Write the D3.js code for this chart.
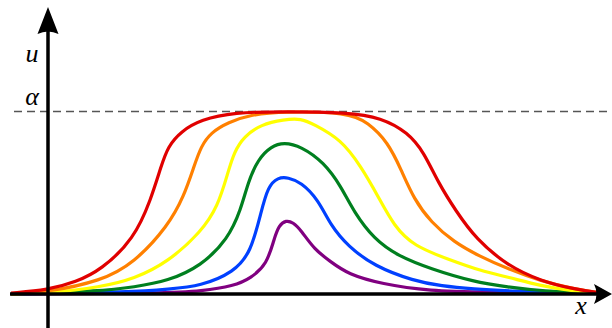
<!DOCTYPE html>
<html>
<head>
<meta charset="utf-8">
<script src="https://cdn.jsdelivr.net/npm/d3@7"></script>
<style>
  html, body { margin: 0; padding: 0; background: #fff; }
  svg { display: block; }
  .label { font-family: 'Liberation Serif', 'DejaVu Serif', serif; font-style: italic; font-size: 26px; fill: #000; }
</style>
</head>
<body>
<div id="chart"></div>
<script>
// x coordinate samples (the u axis sits at x = 0)
var xRed = [-37, 0, 28, 53, 86, 103, 113, 120, 133, 153, 186, 236, 300, 333, 360, 376, 390, 408, 428, 460, 493, 526, 553];
var uRed = [0.005, 0.022, 0.066, 0.131, 0.301, 0.519, 0.699, 0.809, 0.891, 0.956, 0.995, 1.0, 0.995, 0.967, 0.885, 0.776, 0.612, 0.454, 0.301, 0.153, 0.071, 0.027, 0.005];

var xOrange = [-37, 0, 53, 86, 120, 136, 146, 153, 163, 180, 203, 236, 300, 320, 340, 353, 366, 383, 406, 431, 460, 493, 526, 553];
var uOrange = [0, 0.011, 0.071, 0.169, 0.372, 0.536, 0.699, 0.809, 0.885, 0.940, 0.984, 1.0, 0.995, 0.940, 0.831, 0.683, 0.519, 0.393, 0.284, 0.208, 0.137, 0.071, 0.027, 0.005];

var xYellow = [-37, 0, 53, 86, 120, 153, 170, 180, 186, 196, 213, 236, 253, 266, 293, 313, 330, 346, 366, 400, 433, 460, 493, 526, 553];
var uYellow = [0, 0.005, 0.038, 0.082, 0.175, 0.339, 0.481, 0.667, 0.776, 0.863, 0.929, 0.956, 0.962, 0.929, 0.847, 0.699, 0.536, 0.372, 0.262, 0.191, 0.126, 0.093, 0.044, 0.016, 0.005];

var xGreen = [-37, 53, 86, 120, 153, 180, 193, 200, 210, 223, 236, 253, 276, 293, 306, 326, 350, 383, 426, 460, 493, 553];
var uGreen = [0, 0.016, 0.038, 0.071, 0.153, 0.301, 0.464, 0.612, 0.738, 0.809, 0.831, 0.809, 0.721, 0.590, 0.448, 0.301, 0.208, 0.137, 0.066, 0.038, 0.016, 0.005];

var xBlue = [-37, 86, 120, 153, 186, 203, 213, 220, 230, 240, 253, 270, 283, 300, 326, 366, 393, 426, 460, 553];
var uBlue = [0, 0.011, 0.027, 0.044, 0.120, 0.230, 0.448, 0.590, 0.639, 0.639, 0.612, 0.519, 0.372, 0.262, 0.153, 0.071, 0.044, 0.027, 0.016, 0.005];

var xPurple = [-37, 120, 153, 186, 203, 219, 226, 231, 238, 245, 253, 266, 283, 300, 333, 383, 433, 553];
var uPurple = [0, 0.005, 0.016, 0.044, 0.087, 0.164, 0.301, 0.377, 0.404, 0.393, 0.350, 0.246, 0.175, 0.109, 0.055, 0.016, 0.011, 0.005];

// 描画順（下から）
var seriesNames = ['purple', 'blue', 'green', 'yellow', 'orange', 'red'];
var seriesX = [xPurple, xBlue, xGreen, xYellow, xOrange, xRed];
var seriesU = [uPurple, uBlue, uGreen, uYellow, uOrange, uRed];
var seriesColors = ['#800080', '#0040ff', '#007f1f', '#ffff00', '#ff8000', '#e00000'];

// 閾値
var alphaLevel = 1.0;

(function() {
  var width = 612;
  var height = 328;

  // x: -37 .. 565  -> 11 .. 613
  var x = d3.scaleLinear().domain([-37, 565]).range([11, 613]);
  var y = d3.scaleLinear().domain([0, 1]).range([294, 111.5]);

  var svg = d3.select('#chart').append('svg')
    .attr('width', width).attr('height', height)
    .attr('viewBox', '0 0 ' + width + ' ' + height);

  // alpha の破線
  svg.append('line')
    .attr('x1', 14).attr('x2', width)
    .attr('y1', y(alphaLevel)).attr('y2', y(alphaLevel))
    .attr('stroke', '#555').attr('stroke-width', 1.5)
    .attr('stroke-dasharray', '8,5');

  // 読み取り誤差を均すため B-spline で滑らかにする
  var line = d3.line()
    .x(function(d) { return x(d[0]); })
    .y(function(d) { return y(d[1]); })
    .curve(d3.curveBasis);

  seriesNames.forEach(function(name, i) {
    var pts = seriesX[i].map(function(v, j) { return [v, seriesU[i][j]]; });
    svg.append('path')
      .datum(pts)
      .attr('class', 'curve ' + name)
      .attr('d', line)
      .attr('fill', 'none')
      .attr('stroke', seriesColors[i])
      .attr('stroke-width', 3.2)
      .attr('stroke-linejoin', 'round');
  });

  // 軸
  var x0 = x(0);
  var y0 = y(0);

  svg.append('line')
    .attr('x1', 10).attr('x2', 600)
    .attr('y1', y0).attr('y2', y0)
    .attr('stroke', '#000').attr('stroke-width', 3.5);

  svg.append('line')
    .attr('x1', x0).attr('x2', x0)
    .attr('y1', height).attr('y2', 28)
    .attr('stroke', '#000').attr('stroke-width', 3.5);

  // 矢印（LaTeX風）
  function arrowPath(len, half) {
    return 'M0,0 L' + (-len) + ',' + (-half) + ' Q' + (-len + 5) + ',0 ' + (-len) + ',' + half + ' Z';
  }

  svg.append('path')
    .attr('d', arrowPath(18, 10))
    .attr('transform', 'translate(612,' + y0 + ')')
    .attr('fill', '#000');

  svg.append('path')
    .attr('d', arrowPath(27, 10.5))
    .attr('transform', 'translate(' + x0 + ',7) rotate(-90)')
    .attr('fill', '#000');

  // ラベル
  svg.append('text').attr('class', 'label')
    .attr('x', 32).attr('y', 62).attr('text-anchor', 'middle').text('u');
  svg.append('text').attr('class', 'label')
    .attr('x', 32).attr('y', 105).attr('text-anchor', 'middle').text('α');
  svg.append('text').attr('class', 'label')
    .attr('x', 581).attr('y', 314).attr('text-anchor', 'middle').text('x');
})();
</script>
</body>
</html>
